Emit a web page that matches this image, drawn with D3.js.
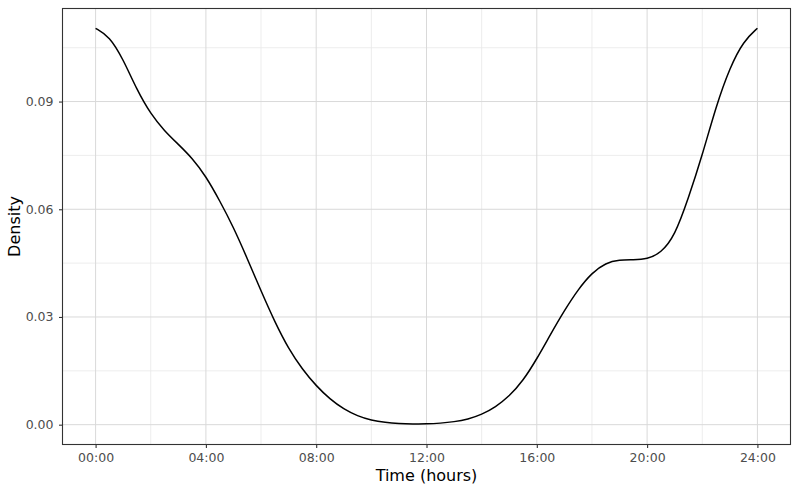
<!DOCTYPE html>
<html><head><meta charset="utf-8">
<script src="https://cdn.jsdelivr.net/npm/d3@7"></script>
<style>body{margin:0;background:#fff}svg{display:block}text{font-family:"DejaVu Sans",sans-serif}</style>
</head><body><svg id="c" width="800" height="494"></svg>
<script>
const hours = [0,0.5,1,1.5,2,2.5,3,3.5,4,4.5,5,5.5,6,6.5,7,7.5,8,8.5,9,9.5,10,10.5,11,11.5,12,12.5,13,13.5,14,14.5,15,15.5,16,16.5,17,17.5,18,18.5,19,19.5,20,20.5,21,21.5,22,22.5,23,23.5,24];
const density = [0.1104,0.1082,0.1018,0.0932,0.0865,0.0818,0.0781,0.0743,0.0692,0.0624,0.0550,0.0463,0.0372,0.0286,0.0211,0.0154,0.0108,0.0071,0.0043,0.0024,0.0012,0.0006,0.0003,0.0002,0.0002,0.0004,0.0008,0.0015,0.0028,0.0049,0.0079,0.0122,0.0183,0.0252,0.0318,0.0377,0.0423,0.0451,0.0459,0.0459,0.0461,0.0478,0.0525,0.0631,0.0750,0.0887,0.0995,0.1069,0.1104];
const xTicks = [0,4,8,12,16,20,24];
const xTickLabels = ["00:00","04:00","08:00","12:00","16:00","20:00","24:00"];
const xMinor = [2,6,10,14,18,22];
const yTicks = [0,0.03,0.06,0.09];
const yTickLabels = ["0.00","0.03","0.06","0.09"];
const yMinor = [0.015,0.045,0.075,0.105];

const L=62.5,R=790.5,T=8.5,B=444.5;
const svg=d3.select("#c");
const ymax=d3.max(density), pad=ymax*0.05;
const x=d3.scaleLinear().domain([-1.2,25.2]).range([L,R]);
const y=d3.scaleLinear().domain([-pad,ymax+pad]).range([B,T]);

const g=svg.append("g");
g.selectAll(".xm").data(xMinor).join("line").attr("x1",d=>x(d)).attr("x2",d=>x(d)).attr("y1",T).attr("y2",B).attr("stroke","#e8e8e8").attr("stroke-width",0.8);
g.selectAll(".ym").data(yMinor).join("line").attr("x1",L).attr("x2",R).attr("y1",d=>y(d)).attr("y2",d=>y(d)).attr("stroke","#e8e8e8").attr("stroke-width",0.8);
g.selectAll(".xM").data(xTicks).join("line").attr("x1",d=>x(d)).attr("x2",d=>x(d)).attr("y1",T).attr("y2",B).attr("stroke","#d9d9d9").attr("stroke-width",1);
g.selectAll(".yM").data(yTicks).join("line").attr("x1",L).attr("x2",R).attr("y1",d=>y(d)).attr("y2",d=>y(d)).attr("stroke","#d9d9d9").attr("stroke-width",1);

const line=d3.line().x((d,i)=>x(hours[i])).y(d=>y(d)).curve(d3.curveBasis);
svg.append("path").datum(density).attr("d",line).attr("fill","none").attr("stroke","#000").attr("stroke-width",1.5);

svg.append("rect").attr("x",L).attr("y",T).attr("width",R-L).attr("height",B-T).attr("fill","none").attr("stroke","#333").attr("stroke-width",1.1);

const xa=svg.append("g").attr("transform",`translate(0,${B})`).call(d3.axisBottom(x).tickValues(xTicks).tickSize(3.5).tickPadding(5.5).tickFormat((d,i)=>xTickLabels[i]));
const ya=svg.append("g").attr("transform",`translate(${L},0)`).call(d3.axisLeft(y).tickValues(yTicks).tickSize(3.5).tickPadding(5.5).tickFormat((d,i)=>yTickLabels[i]));
[xa,ya].forEach(a=>{a.select(".domain").remove();a.selectAll(".tick line").attr("stroke","#333").attr("stroke-width",1.1);a.selectAll(".tick text").attr("fill","#4d4d4d").style("font-size","12.5px").style("font-family","DejaVu Sans");});

svg.append("text").attr("x",(L+R)/2).attr("y",481).attr("text-anchor","middle").style("font-size","16px").attr("fill","#000").text("Time (hours)");
svg.append("text").attr("transform",`translate(20,${(T+B)/2}) rotate(-90)`).attr("text-anchor","middle").style("font-size","16px").attr("fill","#000").text("Density");
</script></body></html>
